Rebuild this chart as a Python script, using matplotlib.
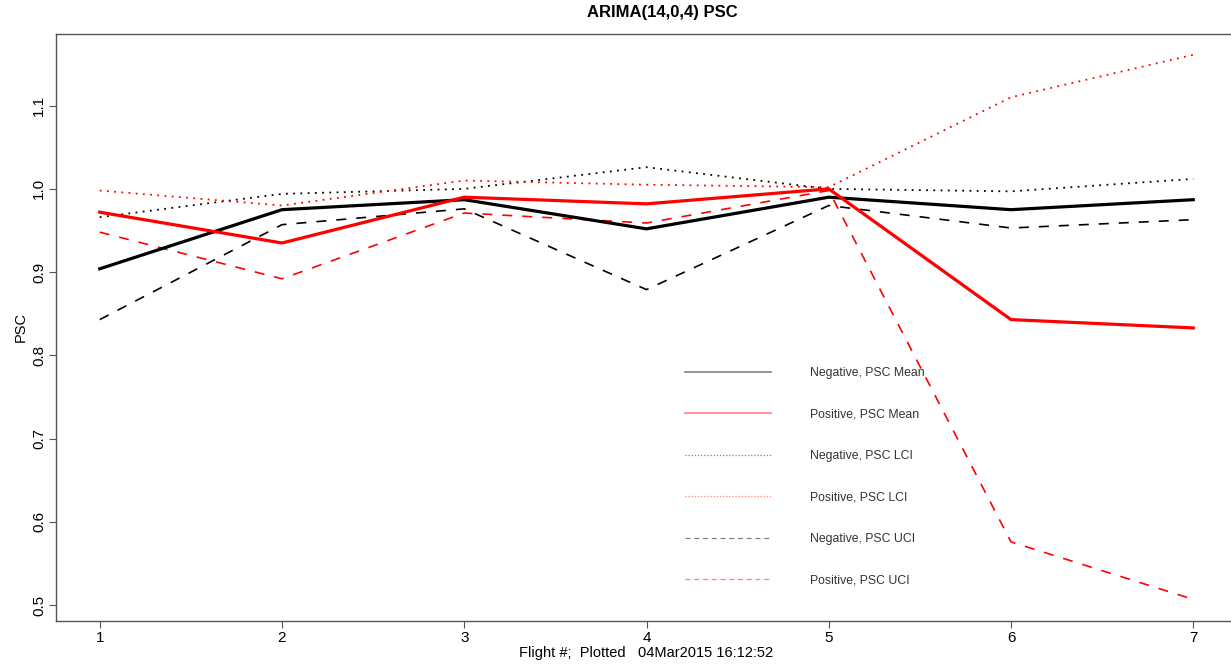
import matplotlib
matplotlib.use("Agg")
import matplotlib.pyplot as plt
from matplotlib.lines import Line2D

plt.rcParams["font.family"] = ["Liberation Sans", "DejaVu Sans"]

flights = [1, 2, 3, 4, 5, 6, 7]

neg_mean = [0.904, 0.975, 0.987, 0.952, 0.990, 0.975, 0.987]
pos_mean = [0.972, 0.935, 0.990, 0.982, 1.000, 0.843, 0.833]
neg_lci = [0.966, 0.994, 1.000, 1.026, 1.000, 0.997, 1.012]
pos_lci = [0.998, 0.980, 1.010, 1.005, 1.002, 1.110, 1.161]
neg_uci = [0.843, 0.957, 0.976, 0.879, 0.980, 0.953, 0.963]
pos_uci = [0.948, 0.892, 0.971, 0.959, 0.998, 0.576, 0.507]

yticks = [0.5, 0.6, 0.7, 0.8, 0.9, 1.0, 1.1]

DASH = (0, (6, 6))
DOT = (0, (1, 3))

fig = plt.figure(figsize=(12.31, 6.66), dpi=100)
# axes run slightly past the right edge, like the cropped original
ax = fig.add_axes([56 / 1231, 45 / 666, 1181 / 1231, 587 / 666])

ax.plot(flights, neg_lci, color="black", lw=1.3, linestyle=DOT)
ax.plot(flights, pos_lci, color="red", lw=1.3, linestyle=DOT)
ax.plot(flights, neg_uci, color="black", lw=1.2, linestyle=DASH)
ax.plot(flights, pos_uci, color="red", lw=1.2, linestyle=DASH)
ax.plot(flights, neg_mean, color="black", lw=2.3, solid_joinstyle="miter")
ax.plot(flights, pos_mean, color="red", lw=2.3, solid_joinstyle="miter")

ax.set_xlim(0.76, 7.24)
ax.set_ylim(0.481, 1.186)
ax.set_xticks(flights)
ax.set_yticks(yticks)
ax.set_yticklabels([f"{v:.1f}" for v in yticks], rotation=90, va="center")
ax.tick_params(direction="out", length=5, width=0.8, colors="#555555",
               labelcolor="black", labelsize=11, pad=2)
for s in ax.spines.values():
    s.set_color("#555555")
    s.set_linewidth(1.0)

ax.set_xlabel("Flight #;  Plotted   04Mar2015 16:12:52", fontsize=10.5, labelpad=1)
ax.set_ylabel("PSC", fontsize=10.5, labelpad=3)
fig.text(662 / 1231, 1 - 13 / 666, "ARIMA(14,0,4) PSC", ha="center", va="center",
         fontsize=12, fontweight="bold")

handles = [
    Line2D([], [], color="#808080", lw=1.2),
    Line2D([], [], color="#ff8080", lw=1.2),
    Line2D([], [], color="#808080", lw=0.9, linestyle=(0, (1, 1.5))),
    Line2D([], [], color="#ff8080", lw=0.9, linestyle=(0, (1, 1.5))),
    Line2D([], [], color="#808080", lw=0.9, linestyle=(0, (4, 3))),
    Line2D([], [], color="#ff8080", lw=0.9, linestyle=(0, (4, 3))),
]
labels = ["Negative, PSC Mean", "Positive, PSC Mean", "Negative, PSC LCI",
          "Positive, PSC LCI", "Negative, PSC UCI", "Positive, PSC UCI"]
leg = ax.legend(handles, labels, loc="upper left", bbox_to_anchor=(0.533, 0.433),
                frameon=False, fontsize=8.8, labelspacing=2.42, handlelength=7.0,
                handletextpad=3.2, borderpad=0, borderaxespad=0)
for t in leg.get_texts():
    t.set_color("#333333")

fig.savefig("out.png", dpi=100)
